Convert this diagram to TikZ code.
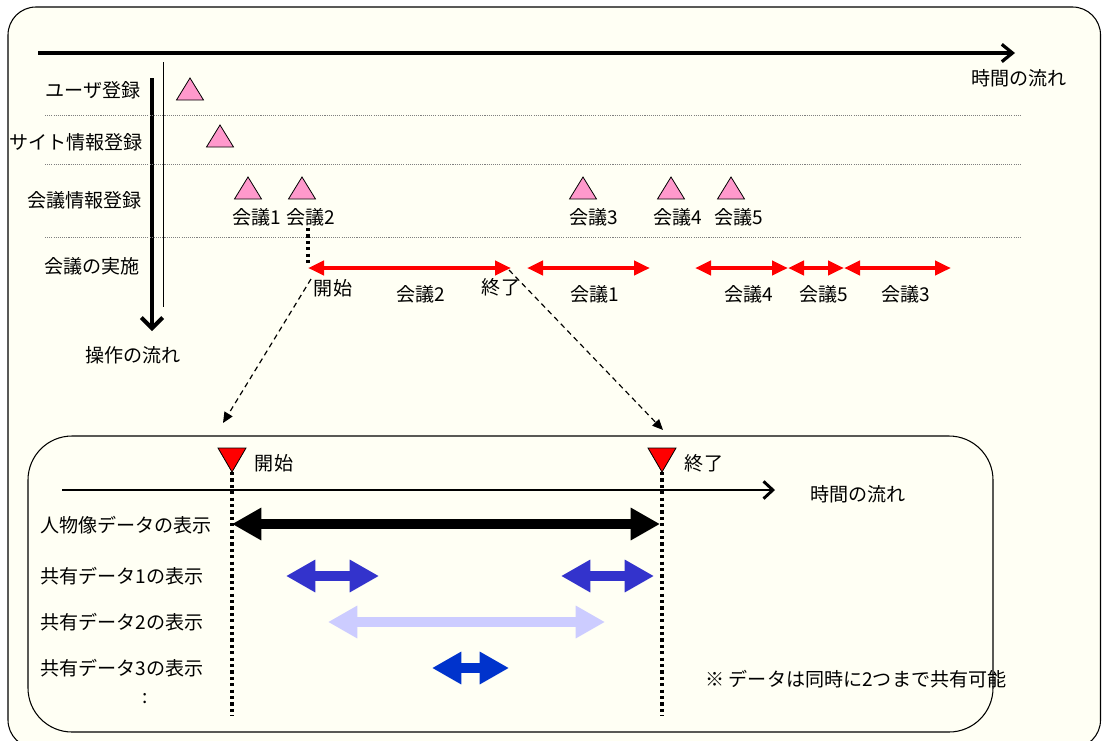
\documentclass[tikz,border=0pt]{standalone}
\usepackage{fontspec}
\setmainfont{Noto Sans CJK JP}
\usepackage{tikz}
\usetikzlibrary{calc,arrows.meta}
\definecolor{paper}{HTML}{FFFFF4}
\definecolor{tripink}{HTML}{FF99CC}
\definecolor{shareone}{HTML}{3333CC}
\definecolor{sharetwo}{HTML}{CCCCFF}
\definecolor{sharethree}{HTML}{0033CC}
\tikzset{
  lbl/.style={font=\fontsize{14.3}{16}\selectfont, inner sep=0pt},
  sepline/.style={gray, line width=0.6pt, dash pattern=on 0.8pt off 0.8pt},
  timeaxis/.style={line width=2.4pt, -{Straight Barb[length=8pt,width=13pt]}},
  tri/.style={draw=black, fill=tripink, line width=0.6pt},
  redtri/.style={draw=black, fill=red, line width=0.6pt},
  redarr/.style={red, line width=3.4pt, {Triangle[length=12pt,width=10.5pt]}-{Triangle[length=12pt,width=10.5pt]}},
  fatarr/.style={line width=7.8pt, {Triangle[length=22pt,width=23pt]}-{Triangle[length=22pt,width=23pt]}},
  zoomarr/.style={line width=0.9pt, dash pattern=on 4pt off 3pt, -{Triangle[length=8pt,width=7pt]}},
  dotv/.style={line width=2.6pt, dash pattern=on 2.4pt off 2.4pt}
}
\begin{document}
\begin{tikzpicture}[x=0.75pt,y=-0.75pt]
\useasboundingbox (0,0) rectangle (1102,740);
\fill[white] (0,0) rectangle (1102,740);
\draw[fill=paper, line width=0.8pt, rounded corners=21pt] (8,7) rectangle (1100.5,748);

% upper part: registration and meetings
\coordinate (t0) at (38,53);
\coordinate (t1) at (1015,53);
\draw[timeaxis] (t0) -- (t1);
\node[lbl] (tlab) at (1019,78) {時間の流れ};
\coordinate (o0) at (152,78);
\coordinate (o1) at (152,331);
\draw[line width=3pt, -{Straight Barb[length=8pt,width=16pt]}] (o0) -- (o1);
\draw[line width=0.6pt] (163,62) -- (163,307);
\node[lbl] (olab) at (133,355) {操作の流れ};

\node[lbl, anchor=east] (user) at (141,90) {ユーザ登録};
\node[lbl, anchor=east] (site) at (143,142) {サイト情報登録};
\node[lbl, anchor=east] (minfo) at (142,200) {会議情報登録};
\node[lbl, anchor=east] (mrun) at (140,266) {会議の実施};
\foreach \y in {115,164,237}
  \draw[sepline] (45,\y) -- (1020,\y);

\foreach \x/\y in {190/89, 220/136, 248/188, 302/188, 583/188, 671/188, 731/188}
  \draw[tri] (\x-13.5,\y+11) -- (\x,\y-11) -- (\x+13.5,\y+11) -- cycle;
\node[lbl] (k1) at (257,217) {会議1};
\node[lbl] (k2) at (311,217) {会議2};
\node[lbl] (k3) at (594,217) {会議3};
\node[lbl] (k4) at (678,217) {会議4};
\node[lbl] (k5) at (739,217) {会議5};

\coordinate (k2top) at (308,228);
\foreach \n/\a/\b in {m2/308/511, m1/527/650, m4/695/788, m5/788/844, m3/844/951} {
  \coordinate (\n s) at (\a,268);
  \coordinate (\n e) at (\b,268);
  \draw[redarr] (\n s) -- (\n e);
}
\draw[dotv] (k2top) -- ($(m2s)+(0,-3)$);
\node[lbl] (start) at (333,288) {開始};
\node[lbl] (r2) at (421,294) {会議2};
\node[lbl] (end) at (501,287) {終了};
\node[lbl] (r1) at (595,294) {会議1};
\node[lbl] (r4) at (749,294) {会議4};
\node[lbl] (r5) at (824,294) {会議5};
\node[lbl] (r3) at (906,294) {会議3};

\coordinate (d0) at (311,279);
\coordinate (d1) at (509,270);
\coordinate (z0) at (223,423);
\coordinate (z1) at (663,430);
\draw[zoomarr] (d0) -- (z0);
\draw[zoomarr] (d1) -- (z1);

% lower part: one meeting in detail
\draw[line width=0.8pt, rounded corners=33pt] (28,436) rectangle (993,732);
\coordinate (bs) at (232,472);
\coordinate (be) at (662,472);
\draw[redtri] (218,448) -- (246,448) -- (bs) -- cycle;
\draw[redtri] (648,448) -- (676,448) -- (be) -- cycle;
\node[lbl] (bstart) at (274,463) {開始};
\node[lbl] (bend) at (704,463) {終了};
\coordinate (a0) at (62,490);
\coordinate (a1) at (775,490);
\draw[line width=2.2pt, -{Straight Barb[length=7pt,width=13pt]}] (a0) -- (a1);
\node[lbl] (alab) at (858,494) {時間の流れ};
\coordinate (bsb) at (232,716);
\coordinate (beb) at (662,716);
\draw[dotv] (bs) -- (bsb);
\draw[dotv] (be) -- (beb);

\node[lbl, anchor=west] (p0) at (40,525) {人物像データの表示};
\node[lbl, anchor=west] (p1) at (40,576) {共有データ1の表示};
\node[lbl, anchor=west] (p2) at (40,622) {共有データ2の表示};
\node[lbl, anchor=west] (p3) at (40,668) {共有データ3の表示};
\node[lbl] (pdots) at (145,699) {:};

\coordinate (f0) at (232,524);
\coordinate (f1) at (660,524);
\draw[fatarr, black] (f0) -- (f1);
\coordinate (g0) at (286,576);
\coordinate (g1) at (379,576);
\coordinate (g2) at (561,576);
\coordinate (g3) at (654,576);
\draw[fatarr, shareone, line width=7.5pt] (g0) -- (g1);
\draw[fatarr, shareone, line width=7.5pt] (g2) -- (g3);
\coordinate (h0) at (328,622);
\coordinate (h1) at (605,622);
\draw[fatarr, sharetwo, line width=7.5pt] (h0) -- (h1);
\coordinate (i0) at (432,668);
\coordinate (i1) at (509,668);
\draw[fatarr, sharethree, line width=7.5pt] (i0) -- (i1);

\node[lbl] (note) at (856,679) {※ データは同時に2つまで共有可能};
\end{tikzpicture}
\end{document}
